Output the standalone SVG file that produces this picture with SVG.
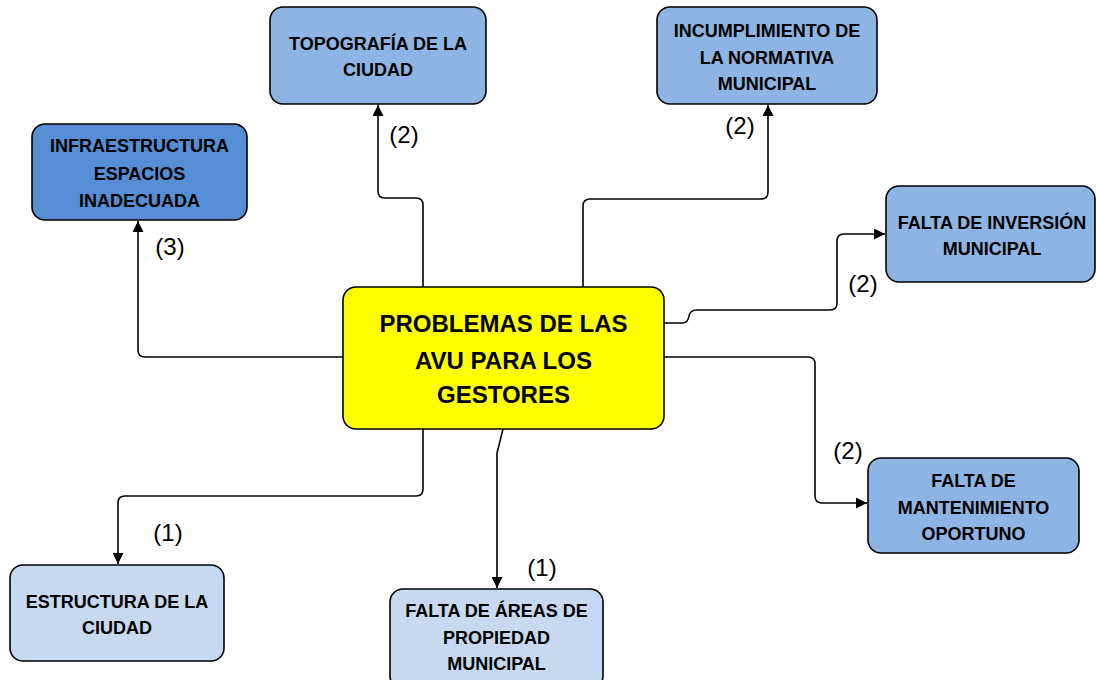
<svg xmlns="http://www.w3.org/2000/svg" width="1096" height="680" viewBox="0 0 1096 680">
<style>
.box{stroke:#000;stroke-width:1.6}
.mid{fill:#8EB4E3}
.dark{fill:#558ED5}
.light{fill:#C6D9F1}
.t{font-family:"Liberation Sans",Arial,sans-serif;font-weight:bold;font-size:18px;fill:#000;text-anchor:middle}
.tc{font-family:"Liberation Sans",Arial,sans-serif;font-weight:bold;font-size:24px;fill:#000;text-anchor:middle}
.lbl{font-family:"Liberation Sans",Arial,sans-serif;font-size:24px;fill:#000;text-anchor:middle}
.c{fill:none;stroke:#000;stroke-width:1.6;marker-end:url(#ah)}
</style>
<defs>
<marker id="ah" markerUnits="userSpaceOnUse" markerWidth="12" markerHeight="11" refX="11" refY="5.5" orient="auto">
<path d="M0,0 L11,5.5 L0,11 z" fill="#000"/>
</marker>
</defs>
<rect width="1096" height="680" fill="#fff"/>
<g id="connectors">
<path class="c" d="M423,287 V205 Q423,198 416,198 H385 Q378,198 378,191 V105"/>
<path class="c" d="M583,287 V206 Q583,199 590,199 H761 Q768,199 768,192 V105"/>
<path class="c" d="M343,357 H145 Q138,357 138,350 V221"/>
<path class="c" d="M664,323 H682 Q688,323 689,316 Q690,310 697,310 H830 Q837,310 837,303 V241 Q837,234 844,234 H885"/>
<path class="c" d="M664,357 H808 Q815,357 815,364 V496 Q815,503 822,503 H867"/>
<path class="c" d="M423,429 V489 Q423,496 416,496 H125 Q118,496 118,503 V564"/>
<path class="c" d="M503,429 L497,453 V588"/>
<text class="lbl" x="404" y="143">(2)</text>
<text class="lbl" x="740" y="134">(2)</text>
<text class="lbl" x="170" y="255">(3)</text>
<text class="lbl" x="863" y="292">(2)</text>
<text class="lbl" x="848" y="459">(2)</text>
<text class="lbl" x="168" y="541">(1)</text>
<text class="lbl" x="542" y="576">(1)</text>
</g>
<g id="center">
<rect class="box" x="343" y="287" width="321" height="142" rx="13" fill="#FFFF00"/>
<text class="tc" x="503.5" y="332">PROBLEMAS DE LAS</text>
<text class="tc" x="503.5" y="369">AVU PARA LOS</text>
<text class="tc" x="503.5" y="403">GESTORES</text>
</g>
<g id="topografia">
<rect class="box mid" x="270" y="7" width="216" height="97" rx="13"/>
<text class="t" x="378" y="49.5">TOPOGRAFÍA DE LA</text>
<text class="t" x="378" y="75.5">CIUDAD</text>
</g>
<g id="incumplimiento">
<rect class="box mid" x="657" y="7" width="220" height="97" rx="13"/>
<text class="t" x="767" y="36.5">INCUMPLIMIENTO DE</text>
<text class="t" x="767" y="63.5">LA NORMATIVA</text>
<text class="t" x="767" y="89.5">MUNICIPAL</text>
</g>
<g id="infraestructura">
<rect class="box dark" x="32" y="124" width="215" height="96" rx="13"/>
<text class="t" x="139.5" y="151.5">INFRAESTRUCTURA</text>
<text class="t" x="139.5" y="179.5">ESPACIOS</text>
<text class="t" x="139.5" y="206.5">INADECUADA</text>
</g>
<g id="inversion">
<rect class="box mid" x="886" y="186" width="209" height="96" rx="13"/>
<text class="t" x="992" y="228.5">FALTA DE INVERSIÓN</text>
<text class="t" x="992" y="254.5">MUNICIPAL</text>
</g>
<g id="mantenimiento">
<rect class="box mid" x="868" y="458" width="211" height="95" rx="13"/>
<text class="t" x="973.5" y="486.5">FALTA DE</text>
<text class="t" x="973.5" y="513.5">MANTENIMIENTO</text>
<text class="t" x="973.5" y="539.5">OPORTUNO</text>
</g>
<g id="estructura">
<rect class="box light" x="10" y="565" width="214" height="96" rx="13"/>
<text class="t" x="117" y="607.5">ESTRUCTURA DE LA</text>
<text class="t" x="117" y="633.5">CIUDAD</text>
</g>
<g id="areas">
<rect class="box light" x="390" y="589" width="213" height="100" rx="13"/>
<text class="t" x="496.5" y="616.5">FALTA DE ÁREAS DE</text>
<text class="t" x="496.5" y="643.5">PROPIEDAD</text>
<text class="t" x="496.5" y="669.5">MUNICIPAL</text>
</g>
</svg>
